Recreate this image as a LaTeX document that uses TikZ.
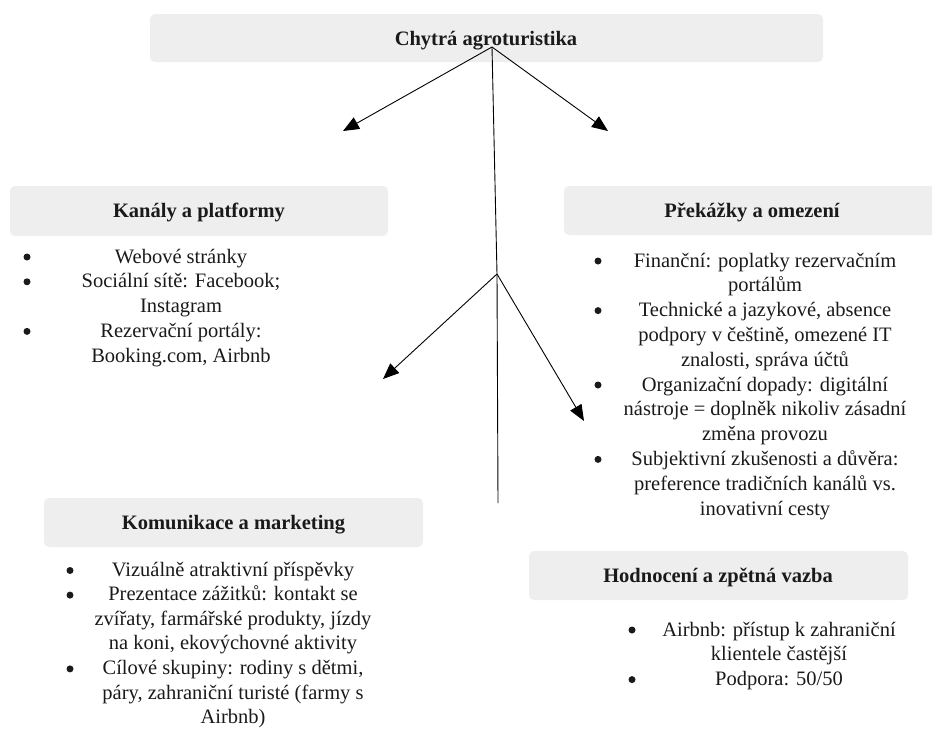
\documentclass[tikz,border=0pt]{standalone}
\usepackage{fontspec}
\setmainfont{Liberation Serif}
\usetikzlibrary{arrows.meta}
\definecolor{boxgray}{HTML}{EEEEEE}
\definecolor{txt}{HTML}{1A1A1A}
\newcommand{\mlines}[1]{\begin{tabular}[t]{@{}c@{}}#1\end{tabular}}
\begin{document}
\begin{tikzpicture}[x=1pt,y=-1pt,
  hbox/.style={fill=boxgray, rounded corners=5pt, draw=none},
  htext/.style={font=\fontsize{20.5}{24.8}\selectfont\bfseries, text=txt, inner sep=0pt, anchor=base},
  item/.style={font=\fontsize{20.5}{24.8}\selectfont, text=txt, inner sep=0pt, anchor=base},
  itemc/.style={font=\fontsize{20.5}{24.6}\selectfont, text=txt, inner sep=0pt, anchor=base},
  dot/.style={circle, fill=txt, inner sep=0pt, minimum size=7pt},
  arr/.style={-{Triangle[length=16pt,width=13pt]}, line width=0.9pt},
  ln/.style={line width=0.9pt}]
\useasboundingbox (0,0) rectangle (932,729);

% heading boxes
\fill[hbox] (150,14) rectangle (823,62);
\fill[hbox] (10,186) rectangle (388,236);
\fill[hbox] (564,186) rectangle (945,235);
\fill[hbox] (44,498) rectangle (423,547);
\fill[hbox] (529,551) rectangle (908,600);

\node[htext] (title) at (486,45) {Chytrá agroturistika};
\node[htext] (h1) at (199,217) {Kanály a platformy};
\node[htext] (h2) at (752,217) {Překážky a omezení};
\node[htext] (h3) at (233.5,529) {Komunikace a marketing};
\node[htext] (h4) at (718,582) {Hodnocení a zpětná vazba};

% Kanály a platformy
\node[item] (k1) at (181,263) {\mlines{Webové stránky}};
\node[item] (k2) at (181,287.8) {\mlines{Sociální sítě: Facebook;\\Instagram}};
\node[item] (k3) at (181,337.4) {\mlines{Rezervační portály:\\Booking.com, Airbnb}};
\node[dot] (kd1) at (27,257) {};
\node[dot] (kd2) at (27,281.8) {};
\node[dot] (kd3) at (27,331.4) {};

% Překážky a omezení
\node[item] (p1) at (765,267) {\mlines{Finanční: poplatky rezervačním\\portálům}};
\node[item] (p2) at (765,316.6) {\mlines{Technické a jazykové, absence\\podpory v češtině, omezené IT\\znalosti, správa účtů}};
\node[item] (p3) at (765,391) {\mlines{Organizační dopady: digitální\\nástroje = doplněk nikoliv zásadní\\změna provozu}};
\node[item] (p4) at (765,465.4) {\mlines{Subjektivní zkušenosti a důvěra:\\preference tradičních kanálů vs.\\inovativní cesty}};
\node[dot] (pd1) at (598,261) {};
\node[dot] (pd2) at (598,310.6) {};
\node[dot] (pd3) at (598,385) {};
\node[dot] (pd4) at (598,459.4) {};

% Komunikace a marketing
\node[itemc] (m1) at (233,576) {\mlines{Vizuálně atraktivní příspěvky}};
\node[itemc] (m2) at (233,600.6) {\mlines{Prezentace zážitků: kontakt se\\zvířaty, farmářské produkty, jízdy\\na koni, ekovýchovné aktivity}};
\node[itemc] (m3) at (233,674.4) {\mlines{Cílové skupiny: rodiny s dětmi,\\páry, zahraniční turisté (farmy s\\Airbnb)}};
\node[dot] (md1) at (70,570.5) {};
\node[dot] (md2) at (70,595.1) {};
\node[dot] (md3) at (70,668.9) {};

% Hodnocení a zpětná vazba
\node[item] (r1) at (779,636) {\mlines{Airbnb: přístup k zahraniční\\klientele častější}};
\node[item] (r2) at (779,685.6) {\mlines{Podpora: 50/50}};
\node[dot] (rd1) at (632,630) {};
\node[dot] (rd2) at (632,679.6) {};

% connectors
\coordinate (o1) at (492,47);
\coordinate (t1) at (343,131);
\coordinate (t2) at (608,131);
\coordinate (o2) at (497,274);
\coordinate (t3) at (383,379);
\coordinate (t4) at (584,421);
\coordinate (e1) at (498,503);
\draw[arr] (o1) -- (t1);
\draw[arr] (o1) -- (t2);
\draw[ln] (o1) -- (o2) -- (e1);
\draw[arr] (o2) -- (t3);
\draw[arr] (o2) -- (t4);
\end{tikzpicture}
\end{document}
